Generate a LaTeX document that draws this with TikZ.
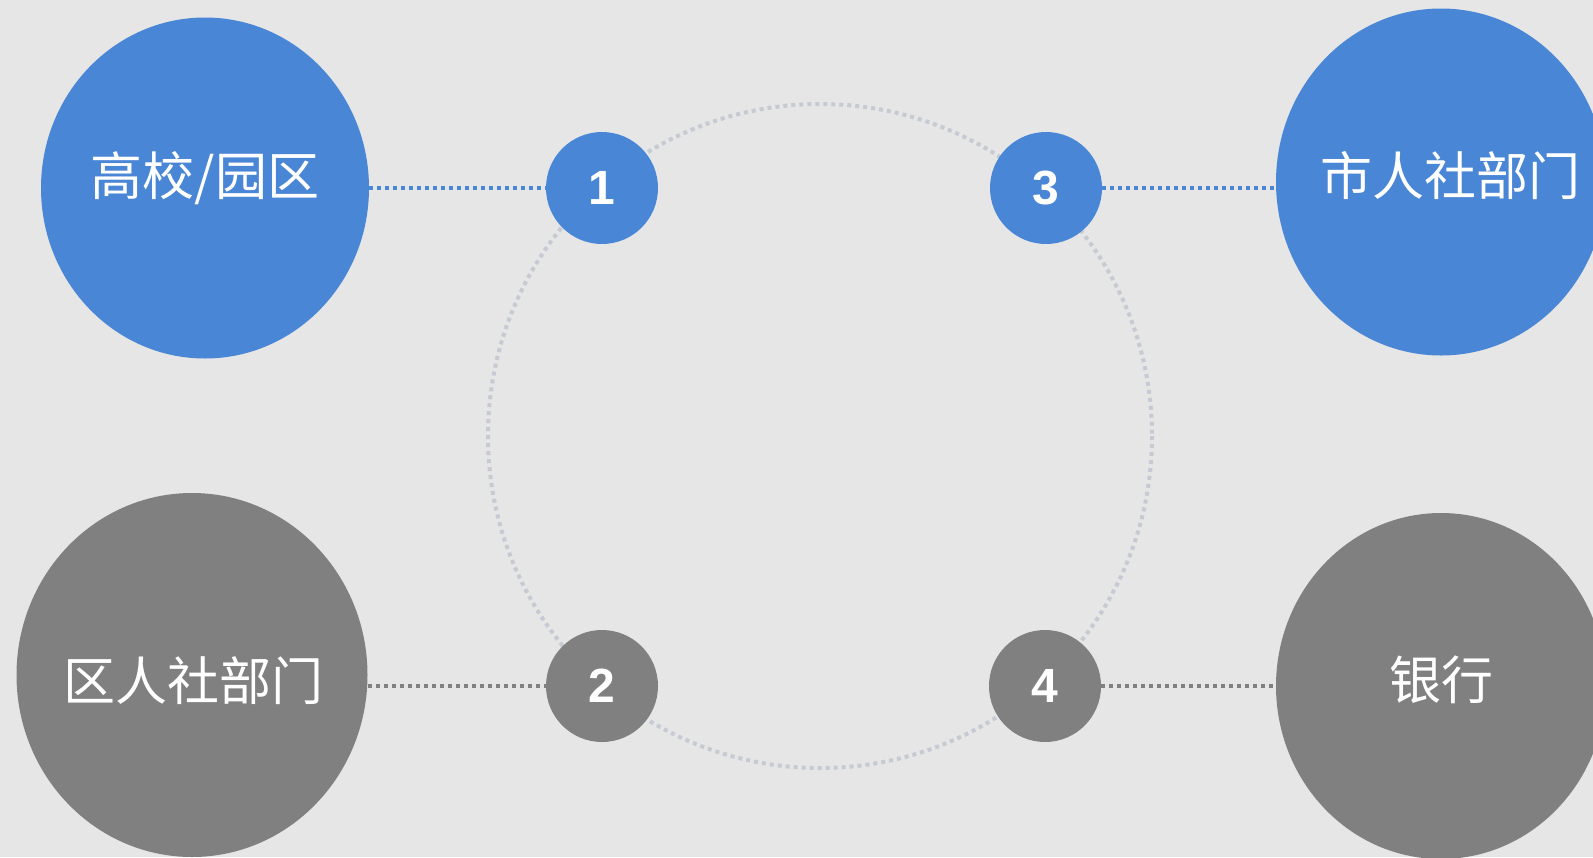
\documentclass[tikz,border=0pt]{standalone}
\usepackage{fontspec}
\setmainfont{Liberation Sans}
\newfontfamily\cjk{Noto Sans CJK SC}
\usetikzlibrary{shapes.geometric}
\definecolor{bgGray}{HTML}{E6E6E6}
\definecolor{nodeBlue}{HTML}{4A86D6}
\definecolor{nodeGray}{HTML}{808080}
\definecolor{ringGray}{HTML}{C5CAD3}
\tikzset{
    bigdisc/.style={ellipse, inner sep=0pt},
    numdisc/.style={circle, inner sep=0pt, minimum size=56pt, text=white,
        font=\fontsize{24}{24}\selectfont\bfseries},
    label text/.style={text=white, font=\cjk\fontsize{26}{26}\selectfont},
    link/.style={line width=2pt, dash pattern=on 2pt off 2pt},
}
\begin{document}
\begin{tikzpicture}[x=0.5pt,y=-0.5pt]
        \tikzstyle{every node}+=[inner sep=0pt]
        \fill [bgGray] (0,0) rectangle (1593,857);
        \clip (0,0) rectangle (1593,857);
        \draw [ringGray, link] (820,436) circle (332);
        \node [bigdisc, fill=nodeBlue, minimum width=164pt, minimum height=170.5pt] (campus) at (205,188) {};
        \node [label text] (campusText) at (205,178) {高校/园区};
        \node [bigdisc, fill=nodeBlue, minimum width=165pt, minimum height=173.5pt] (city) at (1441,182) {};
        \node [label text] (cityText) at (1450,176) {市人社部门};
        \node [bigdisc, fill=nodeGray, minimum width=175.5pt, minimum height=182pt] (district) at (192,675) {};
        \node [label text] (districtText) at (193,681) {区人社部门};
        \node [bigdisc, fill=nodeGray, minimum width=165pt, minimum height=173pt] (bank) at (1441,686) {};
        \node [label text] (bankText) at (1441,680) {银行};
        \node [numdisc, fill=nodeBlue] (n1) at (602,188) {1};
        \node [numdisc, fill=nodeGray] (n2) at (602,686) {2};
        \node [numdisc, fill=nodeBlue] (n3) at (1046,188) {3};
        \node [numdisc, fill=nodeGray] (n4) at (1045,686) {4};
        \draw [nodeBlue, link] (campus.east) -- (n1.west);
        \draw [nodeBlue, link] (n3.east) -- (n3.east -| city.west);
        \draw [nodeGray, link] (n2.west -| district.east) -- (n2.west);
        \draw [nodeGray, link] (n4.east) -- (n4.east -| bank.west);
    \end{tikzpicture}
\end{document}
